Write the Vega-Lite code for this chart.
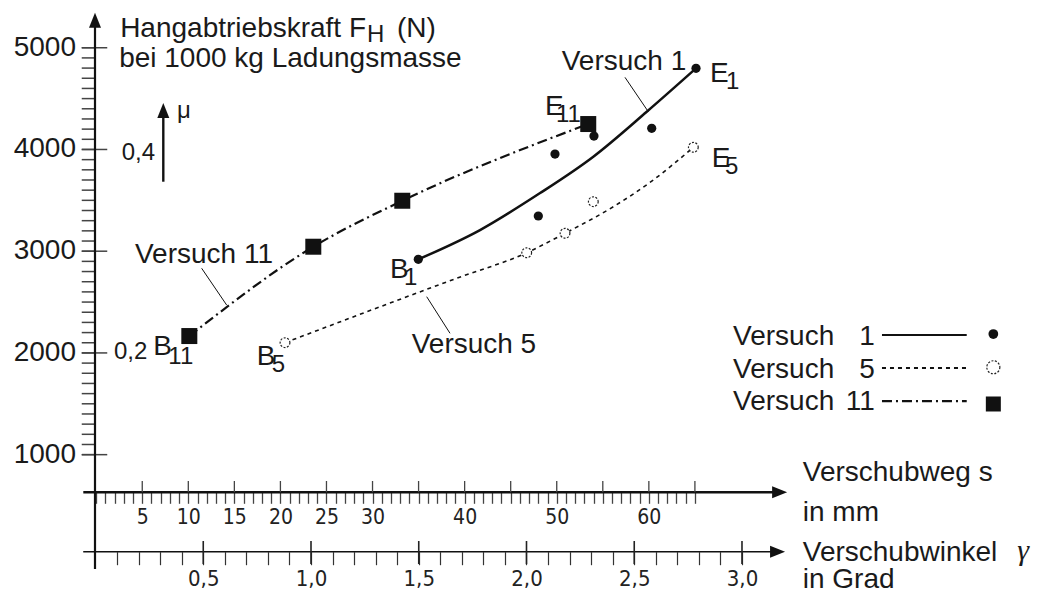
{
  "$schema": "https://vega.github.io/schema/vega-lite/v6.json",
  "width": 1037,
  "height": 593,
  "autosize": {"type": "none"},
  "padding": 0,
  "background": "white",
  "config": {"view": {"stroke": null}},
  "resolve": {"scale": {"x": "independent"}},
  "datasets": {
    "one": [{}],
    "v1": [{"s": 34.97, "F": 2920}, {"s": 48.0, "F": 3346}, {"s": 49.81, "F": 3955}, {"s": 54.04, "F": 4132}, {"s": 60.31, "F": 4208}, {"s": 65.12, "F": 4798}],
    "v1curve": [{"s": 34.97, "F": 2920}, {"s": 41.67, "F": 3208}, {"s": 48.15, "F": 3569}, {"s": 53.97, "F": 3929}, {"s": 59.77, "F": 4371}, {"s": 65.12, "F": 4798}],
    "v5": [{"s": 20.5, "F": 2101}, {"s": 46.74, "F": 2985}, {"s": 50.9, "F": 3176}, {"s": 53.97, "F": 3487}, {"s": 64.83, "F": 4021}],
    "v5curve": [{"s": 20.5, "F": 2101}, {"s": 39.14, "F": 2734}, {"s": 46.74, "F": 2985}, {"s": 50.9, "F": 3176}, {"s": 56.14, "F": 3437}, {"s": 60.48, "F": 3700}, {"s": 64.83, "F": 4021}],
    "v11": [{"s": 10.11, "F": 2166}, {"s": 23.57, "F": 3044}, {"s": 33.23, "F": 3496}, {"s": 53.42, "F": 4250}],
    "leaders": [
      {"s": 11.45, "F": 2832, "s2": 14.16, "F2": 2471},
      {"s": 35.88, "F": 2553, "s2": 38.41, "F2": 2193},
      {"s": 57.41, "F": 4709, "s2": 59.94, "F2": 4371}
    ],
    "ymajor": [{"F": 1000}, {"F": 2000}, {"F": 3000}, {"F": 4000}, {"F": 5000}],
    "yminor": [{"F": 1000}, {"F": 1100}, {"F": 1200}, {"F": 1300}, {"F": 1400}, {"F": 1500}, {"F": 1600}, {"F": 1700}, {"F": 1800}, {"F": 1900},
               {"F": 2000}, {"F": 2100}, {"F": 2200}, {"F": 2300}, {"F": 2400}, {"F": 2500}, {"F": 2600}, {"F": 2700}, {"F": 2800}, {"F": 2900},
               {"F": 3000}, {"F": 3100}, {"F": 3200}, {"F": 3300}, {"F": 3400}, {"F": 3500}, {"F": 3600}, {"F": 3700}, {"F": 3800}, {"F": 3900},
               {"F": 4000}, {"F": 4100}, {"F": 4200}, {"F": 4300}, {"F": 4400}, {"F": 4500}, {"F": 4600}, {"F": 4700}, {"F": 4800}, {"F": 4900}, {"F": 5000}],
    "smajor": [{"s": 5}, {"s": 10}, {"s": 15}, {"s": 20}, {"s": 25}, {"s": 30}, {"s": 35}, {"s": 40}, {"s": 45}, {"s": 50}, {"s": 55}, {"s": 60}, {"s": 65}],
    "gmajor": [{"g": 0.5}, {"g": 1.0}, {"g": 1.5}, {"g": 2.0}, {"g": 2.5}, {"g": 3.0}],
    "labels": [
      {"t": "Hangabtriebskraft F", "s": 2.6, "F": 5108, "role": "main"},
      {"t": "(N)", "s": 32.66, "F": 5108, "role": "main"},
      {"t": "bei 1000 kg Ladungsmasse", "s": 2.49, "F": 4814, "role": "main"},
      {"t": "Versuch 11", "s": 4.21, "F": 2884, "role": "main"},
      {"t": "Versuch 5", "s": 34.25, "F": 1999, "role": "main"},
      {"t": "Versuch 1", "s": 50.54, "F": 4784, "role": "main"},
      {"t": "B", "s": 31.9, "F": 2734, "role": "main"},
      {"t": "E", "s": 66.64, "F": 4666, "role": "main"},
      {"t": "E", "s": 48.73, "F": 4339, "role": "main"},
      {"t": "E", "s": 66.82, "F": 3831, "role": "main"},
      {"t": "B", "s": 17.42, "F": 1881, "role": "main"},
      {"t": "B", "s": 6.2, "F": 1980, "role": "main"},
      {"t": "Versuch", "s": 69.14, "F": 2078, "role": "main"},
      {"t": "Versuch", "s": 69.14, "F": 1754, "role": "main"},
      {"t": "Versuch", "s": 69.14, "F": 1442, "role": "main"},
      {"t": "Verschubweg s", "s": 76.71, "F": 737, "role": "main"},
      {"t": "in mm", "s": 76.71, "F": 344, "role": "main"},
      {"t": "Verschubwinkel", "s": 76.71, "F": -49, "role": "main"},
      {"t": "in Grad", "s": 76.71, "F": -308, "role": "main"},
      {"t": "H", "s": 29.4, "F": 5059, "role": "sub"},
      {"t": "1", "s": 33.42, "F": 2665, "role": "sub"},
      {"t": "1", "s": 68.37, "F": 4598, "role": "sub"},
      {"t": "11", "s": 49.92, "F": 4271, "role": "sub"},
      {"t": "5", "s": 68.27, "F": 3763, "role": "sub"},
      {"t": "5", "s": 19.05, "F": 1813, "role": "sub"},
      {"t": "11", "s": 7.83, "F": 1895, "role": "sub"},
      {"t": "0,4", "s": 2.77, "F": 3893, "role": "sub"},
      {"t": "0,2", "s": 1.93, "F": 1944, "role": "sub"},
      {"t": "μ", "s": 8.77, "F": 4309, "role": "sub"},
      {"t": "1", "s": 84.54, "F": 2078, "role": "num"},
      {"t": "5", "s": 84.54, "F": 1754, "role": "num"},
      {"t": "11", "s": 84.54, "F": 1442, "role": "num"},
      {"t": "γ", "s": 100.0, "F": -40, "role": "gamma"}
    ]
  },
  "layer": [
    {
      "data": {"name": "yminor"},
      "mark": {"type": "rule", "color": "#444", "strokeWidth": 1.5},
      "encoding": {
        "x": {"datum": -1.57, "type": "quantitative", "scale": {"domain": [-10.444, 102.14], "nice": false, "zero": false}, "axis": null},
        "x2": {"datum": -0.13},
        "y": {"field": "F", "type": "quantitative", "scale": {"domain": [-359.9, 5469.3], "nice": false, "zero": false}, "axis": null}
      }
    },
    {
      "data": {"name": "ymajor"},
      "mark": {"type": "rule", "color": "#444", "strokeWidth": 1.5},
      "encoding": {
        "x": {"datum": -1.57, "type": "quantitative", "scale": {"domain": [-10.444, 102.14], "nice": false, "zero": false}, "axis": null},
        "x2": {"datum": 1.2},
        "y": {"field": "F", "type": "quantitative", "scale": {"domain": [-359.9, 5469.3], "nice": false, "zero": false}, "axis": null}
      }
    },
    {
      "data": {"name": "ymajor"},
      "mark": {"type": "text", "align": "right", "baseline": "middle", "font": "Liberation Sans", "fontSize": 28, "color": "#1a1a1a"},
      "encoding": {
        "x": {"datum": -2.19, "type": "quantitative", "scale": {"domain": [-10.444, 102.14], "nice": false, "zero": false}, "axis": null},
        "y": {"field": "F", "type": "quantitative", "scale": {"domain": [-359.9, 5469.3], "nice": false, "zero": false}, "axis": null},
        "text": {"field": "F", "type": "quantitative", "format": "d"}
      }
    },
    {
      "data": {"name": "one"},
      "mark": {"type": "rule", "color": "#111", "strokeWidth": 2.2},
      "encoding": {
        "x": {"datum": -0.13, "type": "quantitative", "scale": {"domain": [-10.444, 102.14], "nice": false, "zero": false}, "axis": null},
        "y": {"datum": -124, "type": "quantitative", "scale": {"domain": [-359.9, 5469.3], "nice": false, "zero": false}, "axis": null},
        "y2": {"datum": 5290}
      }
    },
    {
      "data": {"name": "one"},
      "mark": {"type": "point", "shape": "M-0.8,1L0,-1L0.8,1Z", "size": 225, "filled": true, "color": "#111", "opacity": 1},
      "encoding": {
        "x": {"datum": -0.13, "type": "quantitative", "scale": {"domain": [-10.444, 102.14], "nice": false, "zero": false}, "axis": null},
        "y": {"datum": 5270, "type": "quantitative", "scale": {"domain": [-359.9, 5469.3], "nice": false, "zero": false}, "axis": null}
      }
    },
    {
      "data": {"name": "one"},
      "mark": {"type": "rule", "color": "#111", "strokeWidth": 2.6},
      "encoding": {
        "x": {"datum": -1.4, "type": "quantitative", "scale": {"domain": [-10.444, 102.14], "nice": false, "zero": false},
          "axis": {
            "orient": "bottom", "offset": -100.7, "domain": false, "grid": false, "title": null,
            "values": [0,1,2,3,4,5,6,7,8,9,10,11,12,13,14,15,16,17,18,19,20,21,22,23,24,25,26,27,28,29,30,31,32,33,34,35,36,37,38,39,40,41,42,43,44,45,46,47,48,49,50,51,52,53,54,55,56,57,58,59,60,61,62,63,64,65],
            "tickSize": 11, "tickWidth": 1.3, "tickColor": "#444",
            "labelExpr": "indexof([5,10,15,20,25,30,40,50,60], datum.value) >= 0 ? '' + datum.value : ''",
            "labelFont": "'Liberation Sans Narrow', 'DejaVu Sans Condensed', sans-serif", "labelFontSize": 21, "labelColor": "#222", "labelPadding": 3,
            "labelOverlap": false, "labelBound": false, "labelFlush": false
          }},
        "x2": {"datum": 74.2},
        "y": {"datum": 630, "type": "quantitative", "scale": {"domain": [-359.9, 5469.3], "nice": false, "zero": false}, "axis": null}
      }
    },
    {
      "data": {"name": "one"},
      "mark": {"type": "point", "shape": "M-1,-0.8L1,0L-1,0.8Z", "size": 225, "filled": true, "color": "#111", "opacity": 1},
      "encoding": {
        "x": {"datum": 74.2, "type": "quantitative", "scale": {"domain": [-10.444, 102.14], "nice": false, "zero": false}, "axis": null},
        "y": {"datum": 630, "type": "quantitative", "scale": {"domain": [-359.9, 5469.3], "nice": false, "zero": false}, "axis": null}
      }
    },
    {
      "data": {"name": "smajor"},
      "mark": {"type": "rule", "color": "#444", "strokeWidth": 1.3},
      "encoding": {
        "x": {"field": "s", "type": "quantitative", "scale": {"domain": [-10.444, 102.14], "nice": false, "zero": false}, "axis": null},
        "y": {"datum": 630, "type": "quantitative", "scale": {"domain": [-359.9, 5469.3], "nice": false, "zero": false}, "axis": null},
        "y2": {"datum": 741}
      }
    },
    {
      "data": {"name": "one"},
      "mark": {"type": "rule", "color": "#111", "strokeWidth": 1.6},
      "encoding": {
        "x": {"datum": -0.057, "type": "quantitative", "scale": {"domain": [-0.4432, 4.369], "nice": false, "zero": false},
          "axis": {
            "orient": "bottom", "offset": -41.3, "domain": false, "grid": false, "title": null,
            "values": [0.1,0.2,0.3,0.4,0.5,0.6,0.7,0.8,0.9,1,1.1,1.2,1.3,1.4,1.5,1.6,1.7,1.8,1.9,2,2.1,2.2,2.3,2.4,2.5,2.6,2.7,2.8,2.9,3],
            "tickSize": 13, "tickWidth": 1.2, "tickColor": "#333",
            "labelExpr": "round(datum.value*10) % 5 === 0 ? replace(format(datum.value, '.1f'), '.', ',') : ''",
            "labelFont": "'Liberation Sans Narrow', 'DejaVu Sans Condensed', sans-serif", "labelFontSize": 22, "labelColor": "#222", "labelPadding": 4,
            "labelOverlap": false, "labelBound": false, "labelFlush": false
          }},
        "x2": {"datum": 3.165},
        "y": {"datum": 46, "type": "quantitative", "scale": {"domain": [-359.9, 5469.3], "nice": false, "zero": false}, "axis": null}
      }
    },
    {
      "data": {"name": "one"},
      "mark": {"type": "point", "shape": "M-1,-0.8L1,0L-1,0.8Z", "size": 225, "filled": true, "color": "#111", "opacity": 1},
      "encoding": {
        "x": {"datum": 3.165, "type": "quantitative", "scale": {"domain": [-0.4432, 4.369], "nice": false, "zero": false}, "axis": null},
        "y": {"datum": 46, "type": "quantitative", "scale": {"domain": [-359.9, 5469.3], "nice": false, "zero": false}, "axis": null}
      }
    },
    {
      "data": {"name": "gmajor"},
      "mark": {"type": "rule", "color": "#222", "strokeWidth": 1.6},
      "encoding": {
        "x": {"field": "g", "type": "quantitative", "scale": {"domain": [-0.4432, 4.369], "nice": false, "zero": false}, "axis": null},
        "y": {"datum": 151, "type": "quantitative", "scale": {"domain": [-359.9, 5469.3], "nice": false, "zero": false}, "axis": null},
        "y2": {"datum": -75}
      }
    },
    {
      "data": {"name": "one"},
      "mark": {"type": "rule", "color": "#111", "strokeWidth": 2.4},
      "encoding": {
        "x": {"datum": 7.285, "type": "quantitative", "scale": {"domain": [-10.444, 102.14], "nice": false, "zero": false}, "axis": null},
        "y": {"datum": 3683, "type": "quantitative", "scale": {"domain": [-359.9, 5469.3], "nice": false, "zero": false}, "axis": null},
        "y2": {"datum": 4330}
      }
    },
    {
      "data": {"name": "one"},
      "mark": {"type": "point", "shape": "M-0.8,1L0,-1L0.8,1Z", "size": 225, "filled": true, "color": "#111", "opacity": 1},
      "encoding": {
        "x": {"datum": 7.285, "type": "quantitative", "scale": {"domain": [-10.444, 102.14], "nice": false, "zero": false}, "axis": null},
        "y": {"datum": 4383, "type": "quantitative", "scale": {"domain": [-359.9, 5469.3], "nice": false, "zero": false}, "axis": null}
      }
    },
    {
      "data": {"name": "v11"},
      "mark": {"type": "line", "interpolate": "monotone", "color": "#111", "strokeWidth": 2.2, "strokeDash": [10, 4, 2, 4]},
      "encoding": {
        "x": {"field": "s", "type": "quantitative", "scale": {"domain": [-10.444, 102.14], "nice": false, "zero": false}, "axis": null},
        "y": {"field": "F", "type": "quantitative", "scale": {"domain": [-359.9, 5469.3], "nice": false, "zero": false}, "axis": null}
      }
    },
    {
      "data": {"name": "v5curve"},
      "mark": {"type": "line", "interpolate": "monotone", "color": "#111", "strokeWidth": 1.6, "strokeDash": [4, 4]},
      "encoding": {
        "x": {"field": "s", "type": "quantitative", "scale": {"domain": [-10.444, 102.14], "nice": false, "zero": false}, "axis": null},
        "y": {"field": "F", "type": "quantitative", "scale": {"domain": [-359.9, 5469.3], "nice": false, "zero": false}, "axis": null}
      }
    },
    {
      "data": {"name": "v1curve"},
      "mark": {"type": "line", "interpolate": "monotone", "color": "#111", "strokeWidth": 2.5},
      "encoding": {
        "x": {"field": "s", "type": "quantitative", "scale": {"domain": [-10.444, 102.14], "nice": false, "zero": false}, "axis": null},
        "y": {"field": "F", "type": "quantitative", "scale": {"domain": [-359.9, 5469.3], "nice": false, "zero": false}, "axis": null}
      }
    },
    {
      "data": {"name": "leaders"},
      "mark": {"type": "rule", "color": "#111", "strokeWidth": 1},
      "encoding": {
        "x": {"field": "s", "type": "quantitative", "scale": {"domain": [-10.444, 102.14], "nice": false, "zero": false}, "axis": null},
        "y": {"field": "F", "type": "quantitative", "scale": {"domain": [-359.9, 5469.3], "nice": false, "zero": false}, "axis": null},
        "x2": {"field": "s2"},
        "y2": {"field": "F2"}
      }
    },
    {
      "data": {"name": "v1"},
      "mark": {"type": "point", "shape": "circle", "filled": true, "size": 85, "color": "#111", "opacity": 1},
      "encoding": {
        "x": {"field": "s", "type": "quantitative", "scale": {"domain": [-10.444, 102.14], "nice": false, "zero": false}, "axis": null},
        "y": {"field": "F", "type": "quantitative", "scale": {"domain": [-359.9, 5469.3], "nice": false, "zero": false}, "axis": null}
      }
    },
    {
      "data": {"name": "v5"},
      "mark": {"type": "point", "shape": "circle", "filled": true, "size": 95, "fill": "white", "stroke": "#222", "strokeWidth": 1.2, "strokeDash": [2, 1.5], "opacity": 1},
      "encoding": {
        "x": {"field": "s", "type": "quantitative", "scale": {"domain": [-10.444, 102.14], "nice": false, "zero": false}, "axis": null},
        "y": {"field": "F", "type": "quantitative", "scale": {"domain": [-359.9, 5469.3], "nice": false, "zero": false}, "axis": null}
      }
    },
    {
      "data": {"name": "v11"},
      "mark": {"type": "point", "shape": "square", "filled": true, "size": 256, "color": "#111", "opacity": 1},
      "encoding": {
        "x": {"field": "s", "type": "quantitative", "scale": {"domain": [-10.444, 102.14], "nice": false, "zero": false}, "axis": null},
        "y": {"field": "F", "type": "quantitative", "scale": {"domain": [-359.9, 5469.3], "nice": false, "zero": false}, "axis": null}
      }
    },
    {
      "data": {"name": "one"},
      "mark": {"type": "rule", "color": "#111", "strokeWidth": 2.2},
      "encoding": {
        "x": {"datum": 85.31, "type": "quantitative", "scale": {"domain": [-10.444, 102.14], "nice": false, "zero": false}, "axis": null},
        "x2": {"datum": 94.51},
        "y": {"datum": 2176, "type": "quantitative", "scale": {"domain": [-359.9, 5469.3], "nice": false, "zero": false}, "axis": null}
      }
    },
    {
      "data": {"name": "one"},
      "mark": {"type": "rule", "color": "#111", "strokeWidth": 1.8, "strokeDash": [4, 4]},
      "encoding": {
        "x": {"datum": 85.31, "type": "quantitative", "scale": {"domain": [-10.444, 102.14], "nice": false, "zero": false}, "axis": null},
        "x2": {"datum": 94.51},
        "y": {"datum": 1852, "type": "quantitative", "scale": {"domain": [-359.9, 5469.3], "nice": false, "zero": false}, "axis": null}
      }
    },
    {
      "data": {"name": "one"},
      "mark": {"type": "rule", "color": "#111", "strokeWidth": 2.2, "strokeDash": [10, 4, 2, 4]},
      "encoding": {
        "x": {"datum": 85.31, "type": "quantitative", "scale": {"domain": [-10.444, 102.14], "nice": false, "zero": false}, "axis": null},
        "x2": {"datum": 94.51},
        "y": {"datum": 1527, "type": "quantitative", "scale": {"domain": [-359.9, 5469.3], "nice": false, "zero": false}, "axis": null}
      }
    },
    {
      "data": {"name": "one"},
      "mark": {"type": "point", "shape": "circle", "filled": true, "size": 95, "color": "#111", "opacity": 1},
      "encoding": {
        "x": {"datum": 97.4, "type": "quantitative", "scale": {"domain": [-10.444, 102.14], "nice": false, "zero": false}, "axis": null},
        "y": {"datum": 2186, "type": "quantitative", "scale": {"domain": [-359.9, 5469.3], "nice": false, "zero": false}, "axis": null}
      }
    },
    {
      "data": {"name": "one"},
      "mark": {"type": "point", "shape": "circle", "filled": true, "size": 170, "fill": "white", "stroke": "#222", "strokeWidth": 1.2, "strokeDash": [2, 1.5], "opacity": 1},
      "encoding": {
        "x": {"datum": 97.4, "type": "quantitative", "scale": {"domain": [-10.444, 102.14], "nice": false, "zero": false}, "axis": null},
        "y": {"datum": 1859, "type": "quantitative", "scale": {"domain": [-359.9, 5469.3], "nice": false, "zero": false}, "axis": null}
      }
    },
    {
      "data": {"name": "one"},
      "mark": {"type": "point", "shape": "square", "filled": true, "size": 225, "color": "#111", "opacity": 1},
      "encoding": {
        "x": {"datum": 97.4, "type": "quantitative", "scale": {"domain": [-10.444, 102.14], "nice": false, "zero": false}, "axis": null},
        "y": {"datum": 1498, "type": "quantitative", "scale": {"domain": [-359.9, 5469.3], "nice": false, "zero": false}, "axis": null}
      }
    },
    {
      "data": {"name": "labels"},
      "transform": [{"filter": "datum.role === 'main'"}],
      "mark": {"type": "text", "align": "left", "baseline": "alphabetic", "font": "Liberation Sans", "fontSize": 28, "color": "#1a1a1a"},
      "encoding": {
        "x": {"field": "s", "type": "quantitative", "scale": {"domain": [-10.444, 102.14], "nice": false, "zero": false}, "axis": null},
        "y": {"field": "F", "type": "quantitative", "scale": {"domain": [-359.9, 5469.3], "nice": false, "zero": false}, "axis": null},
        "text": {"field": "t"}
      }
    },
    {
      "data": {"name": "labels"},
      "transform": [{"filter": "datum.role === 'sub'"}],
      "mark": {"type": "text", "align": "left", "baseline": "alphabetic", "font": "Liberation Sans", "fontSize": 24, "color": "#1a1a1a"},
      "encoding": {
        "x": {"field": "s", "type": "quantitative", "scale": {"domain": [-10.444, 102.14], "nice": false, "zero": false}, "axis": null},
        "y": {"field": "F", "type": "quantitative", "scale": {"domain": [-359.9, 5469.3], "nice": false, "zero": false}, "axis": null},
        "text": {"field": "t"}
      }
    },
    {
      "data": {"name": "labels"},
      "transform": [{"filter": "datum.role === 'num'"}],
      "mark": {"type": "text", "align": "right", "baseline": "alphabetic", "font": "Liberation Sans", "fontSize": 28, "color": "#1a1a1a"},
      "encoding": {
        "x": {"field": "s", "type": "quantitative", "scale": {"domain": [-10.444, 102.14], "nice": false, "zero": false}, "axis": null},
        "y": {"field": "F", "type": "quantitative", "scale": {"domain": [-359.9, 5469.3], "nice": false, "zero": false}, "axis": null},
        "text": {"field": "t"}
      }
    },
    {
      "data": {"name": "labels"},
      "transform": [{"filter": "datum.role === 'gamma'"}],
      "mark": {"type": "text", "align": "left", "baseline": "alphabetic", "font": "Liberation Serif", "fontSize": 30, "fontStyle": "italic", "color": "#1a1a1a"},
      "encoding": {
        "x": {"field": "s", "type": "quantitative", "scale": {"domain": [-10.444, 102.14], "nice": false, "zero": false}, "axis": null},
        "y": {"field": "F", "type": "quantitative", "scale": {"domain": [-359.9, 5469.3], "nice": false, "zero": false}, "axis": null},
        "text": {"field": "t"}
      }
    }
  ]
}
